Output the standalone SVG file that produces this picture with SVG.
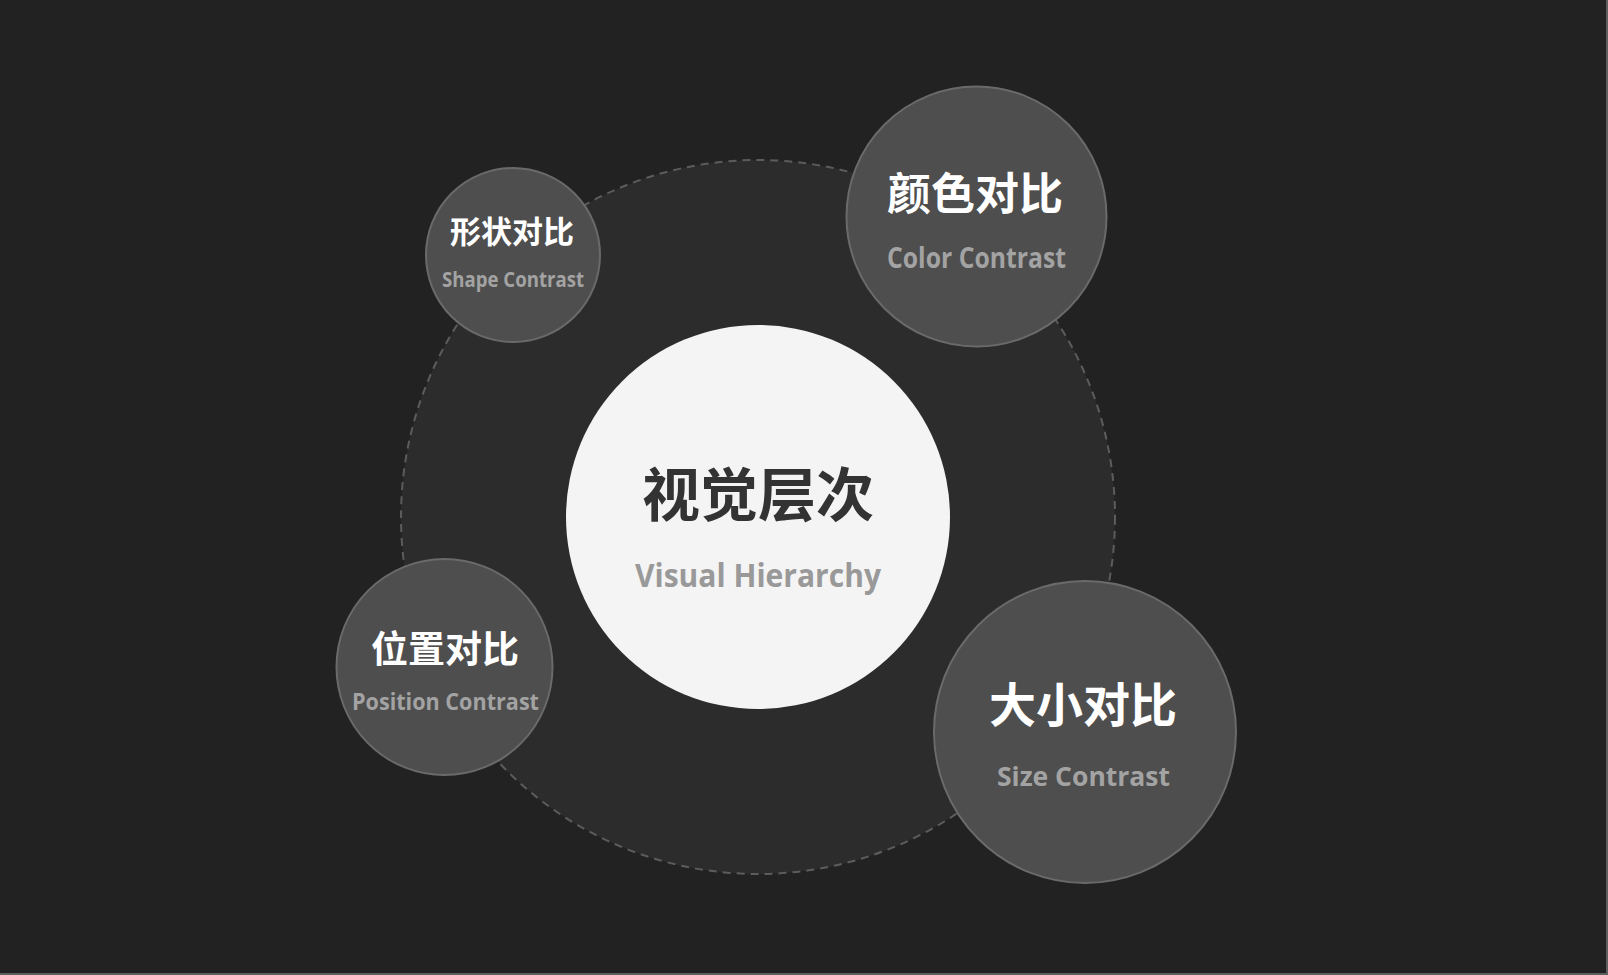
<svg xmlns="http://www.w3.org/2000/svg" width="1608" height="975" viewBox="0 0 1608 975">
<style>
.zh{font-family:"Noto Sans CJK SC","Noto Sans",sans-serif;font-weight:700;text-anchor:middle}
.en{font-family:"Open Sans","Noto Sans",sans-serif;font-weight:700;text-anchor:middle}
.sat{fill:#4e4e4e;stroke:#6a6a6a;stroke-width:2}
.zw{fill:#ffffff}
.eg{fill:#a3a3a3}
</style>
<rect x="0" y="0" width="1608" height="975" fill="#5e5e5e"/>
<rect x="0" y="0" width="1606" height="973" fill="#222222"/>
<g id="connectors">
<circle cx="758" cy="517" r="357" fill="#2c2c2c" stroke="#5c5c5c" stroke-width="2" stroke-dasharray="8 6"/>
</g>
<g id="center">
<circle cx="758" cy="517" r="192" fill="#f4f4f4"/>
<text class="zh" x="758" y="516" font-size="58" fill="#333333">视觉层次</text>
<text class="en" x="758" y="587" font-size="33" fill="#999999" textLength="246" lengthAdjust="spacingAndGlyphs">Visual Hierarchy</text>
</g>
<g id="shape">
<circle class="sat" cx="513" cy="255" r="87"/>
<text class="zh zw" x="512" y="243" font-size="31">形状对比</text>
<text class="en eg" x="513" y="287" font-size="21" textLength="142" lengthAdjust="spacingAndGlyphs">Shape Contrast</text>
</g>
<g id="color">
<circle class="sat" cx="976.5" cy="216.5" r="130"/>
<text class="zh zw" x="975" y="210" font-size="44">颜色对比</text>
<text class="en eg" x="976.5" y="268" font-size="28" textLength="179" lengthAdjust="spacingAndGlyphs">Color Contrast</text>
</g>
<g id="position">
<circle class="sat" cx="444.5" cy="667" r="108"/>
<text class="zh zw" x="445" y="663" font-size="37">位置对比</text>
<text class="en eg" x="445.5" y="710" font-size="24" textLength="187" lengthAdjust="spacingAndGlyphs">Position Contrast</text>
</g>
<g id="size">
<circle class="sat" cx="1085" cy="732" r="151"/>
<text class="zh zw" x="1083" y="722" font-size="47">大小对比</text>
<text class="en eg" x="1083.5" y="786" font-size="27" textLength="173" lengthAdjust="spacingAndGlyphs">Size Contrast</text>
</g>
</svg>
